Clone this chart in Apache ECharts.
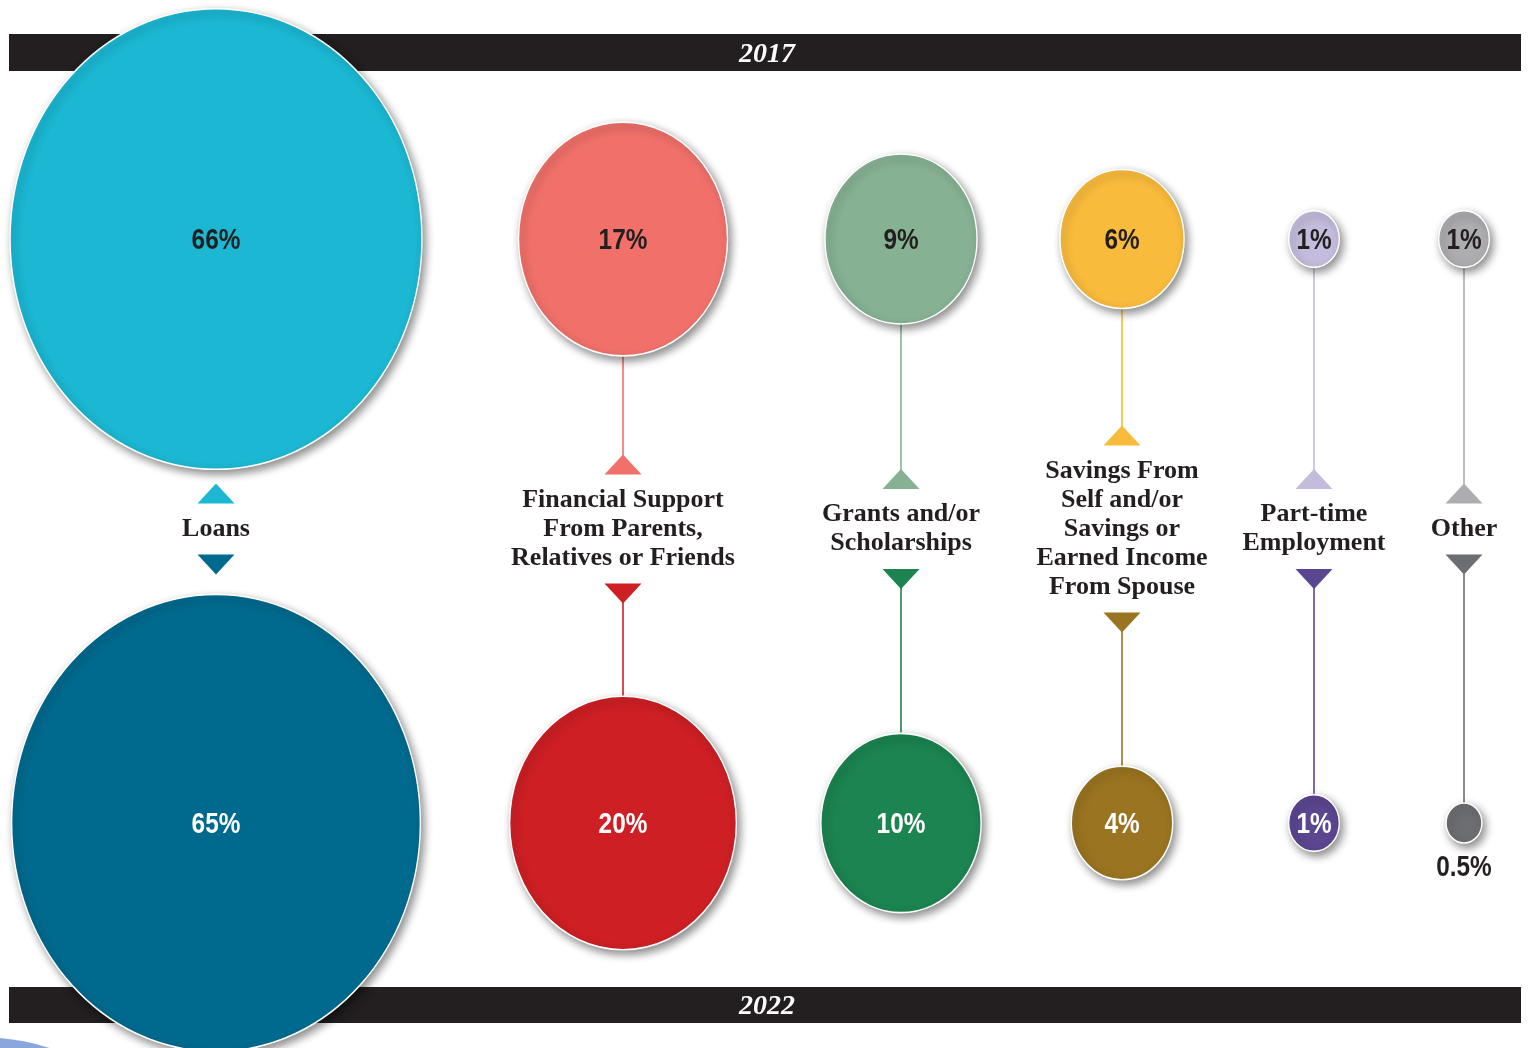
<!DOCTYPE html>
<html>
<head>
<meta charset="utf-8">
<script src="https://cdn.jsdelivr.net/npm/echarts@6/dist/echarts.min.js"></script>
<style>
  html, body { margin: 0; padding: 0; background: #ffffff; }
  #chart { width: 1528px; height: 1048px; }
</style>
</head>
<body>
<div id="chart"></div>
<script>
// ---- data ----
const categories = [
  'Loans',
  'Financial Support\nFrom Parents,\nRelatives or Friends',
  'Grants and/or\nScholarships',
  'Savings From\nSelf and/or\nSavings or\nEarned Income\nFrom Spouse',
  'Part-time\nEmployment',
  'Other'
];
const years = ['2017', '2022'];
const share2017 = [66, 17, 9, 6, 1, 1];
const share2022 = [65, 20, 10, 4, 1, 0.5];

// ---- palette ----
const colors2017 = ['#1BB7D3', '#F1706A', '#86B193', '#F9BB3C', '#C3BCDC', '#ADADB0'];
const colors2022 = ['#006A8E', '#CD1F24', '#1B8450', '#9A7420', '#5B4690', '#6D6E71'];
const labelColors = ['#231F20', '#ffffff'];
const ink = '#231F20';

// ---- layout ----
const W = 1528, H = 1048;
const columnX = [216, 623, 901, 1122, 1314, 1464];
const rowY = [239, 823];
const labelMidY = 529;
const LINE_H = 29;
const KX = 50.7, KY = 56.7;         // bubble area scale (px per sqrt(%))
const TRI_W = 37, TRI_H = 20;

function bubbleSize(v) {
  const s = Math.sqrt(v);
  return [KX * s, KY * s];
}

// ellipse outline; stretched to the symbol size
const ellipsePath = 'path://M1,0 C1.5523,0 2,0.4477 2,1 C2,1.5523 1.5523,2 1,2 C0.4477,2 0,1.5523 0,1 C0,0.4477 0.4477,0 1,0 Z';

const pctFont = "'Liberation Sans',Arial,sans-serif";
const serifFont = "'Liberation Serif','Times New Roman',serif";

function bubbleSeries(name, shares, colors, row) {
  return {
    name: name,
    type: 'scatter',
    z: 3,
    clip: false,
    silent: true,
    symbol: ellipsePath,
    symbolSize: val => bubbleSize(val[2]),
    itemStyle: {
      opacity: 1,
      borderColor: '#ffffff',
      borderWidth: 1.5,
      shadowBlur: 8,
      shadowColor: 'rgba(0,0,0,0.45)',
      shadowOffsetX: 3,
      shadowOffsetY: 4
    },
    label: { show: false },
    data: shares.map((v, i) => ({ value: [columnX[i], rowY[row], v], itemStyle: { color: colors[i] } }))
  };
}

// condensed bold percentage labels, inside the bubble or under it when it is too small
function renderValue(params, api) {
  const v = api.value(2);
  const row = api.value(3);
  const c = api.coord([api.value(0), api.value(1)]);
  const size = bubbleSize(v);
  const below = size[0] < 45;
  return {
    type: 'text',
    x: c[0],
    y: below ? c[1] + size[1] / 2 + 25 : c[1] + 2,
    scaleX: 0.84,
    style: {
      text: v + '%',
      x: 0,
      y: 0,
      align: 'center',
      verticalAlign: 'middle',
      fontFamily: pctFont,
      fontWeight: 'bold',
      fontSize: 29,
      fill: below ? ink : labelColors[row]
    }
  };
}

// connectors, arrow heads and category names between the two rows
function renderConnector(params, api) {
  const i = api.value(1);
  const top = api.coord([api.value(0), rowY[0]]);
  const bot = api.coord([api.value(0), rowY[1]]);
  const mid = api.coord([api.value(0), labelMidY]);
  const x = top[0];
  const h1 = bubbleSize(share2017[i])[1];
  const h2 = bubbleSize(share2022[i])[1];
  const nLines = categories[i].split('\n').length;
  const blockTop = mid[1] - nLines * LINE_H / 2;
  const blockBot = mid[1] + nLines * LINE_H / 2;

  const upBase = blockTop - 11, upApex = upBase - TRI_H;
  const dnBase = blockBot + 11, dnApex = dnBase + TRI_H;
  const children = [];

  const topEdge = top[1] + h1 / 2;
  if (upApex - topEdge > 20) {
    children.push({
      type: 'line',
      shape: { x1: x, y1: topEdge, x2: x, y2: upApex + 2 },
      style: { stroke: colors2017[i], lineWidth: 1.6 }
    });
  }
  const botEdge = bot[1] - h2 / 2;
  if (botEdge - dnApex > 20) {
    children.push({
      type: 'line',
      shape: { x1: x, y1: dnApex - 2, x2: x, y2: botEdge },
      style: { stroke: colors2022[i], lineWidth: 1.6 }
    });
  }
  children.push({
    type: 'polygon',
    shape: { points: [[x - TRI_W / 2, upBase], [x + TRI_W / 2, upBase], [x, upApex]] },
    style: { fill: colors2017[i] }
  });
  children.push({
    type: 'polygon',
    shape: { points: [[x - TRI_W / 2, dnBase], [x + TRI_W / 2, dnBase], [x, dnApex]] },
    style: { fill: colors2022[i] }
  });
  children.push({
    type: 'text',
    style: {
      text: categories[i],
      x: x,
      y: mid[1],
      align: 'center',
      verticalAlign: 'middle',
      fontFamily: serifFont,
      fontWeight: 'bold',
      fontSize: 26,
      lineHeight: LINE_H,
      fill: ink
    }
  });
  return { type: 'group', children: children };
}

function yearBand(label, y0, h) {
  return {
    type: 'group',
    children: [
      {
        type: 'rect',
        shape: { x: 9, y: y0, width: 1512, height: h },
        style: { fill: ink }
      },
      {
        type: 'text',
        style: {
          text: label,
          x: 767,
          y: y0 + h / 2 + 2,
          align: 'center',
          verticalAlign: 'middle',
          fontFamily: serifFont,
          fontWeight: 'bold',
          fontStyle: 'italic',
          fontSize: 28,
          fill: '#ffffff'
        }
      }
    ]
  };
}

const valueData = [];
[share2017, share2022].forEach((shares, row) => {
  shares.forEach((v, i) => valueData.push([columnX[i], rowY[row], v, row]));
});

const chart = echarts.init(document.getElementById('chart'), null, { renderer: 'canvas' });
chart.setOption({
  animation: false,
  backgroundColor: '#ffffff',
  grid: { left: 0, top: 0, width: W, height: H },
  xAxis: { type: 'value', min: 0, max: W, show: false },
  yAxis: { type: 'value', min: 0, max: H, inverse: true, show: false },
  graphic: [
    {
      type: 'circle',
      shape: { cx: -20, cy: 1262, r: 225 },
      style: { fill: '#8AA6DC' },
      z: 0
    },
    yearBand(years[0], 34, 37),
    yearBand(years[1], 987, 36)
  ],
  series: [
    {
      type: 'custom',
      z: 2,
      silent: true,
      clip: false,
      renderItem: renderConnector,
      data: categories.map((c, i) => [columnX[i], i])
    },
    bubbleSeries(years[0], share2017, colors2017, 0),
    bubbleSeries(years[1], share2022, colors2022, 1),
    {
      type: 'custom',
      z: 4,
      silent: true,
      clip: false,
      renderItem: renderValue,
      data: valueData
    }
  ]
});
</script>
</body>
</html>
